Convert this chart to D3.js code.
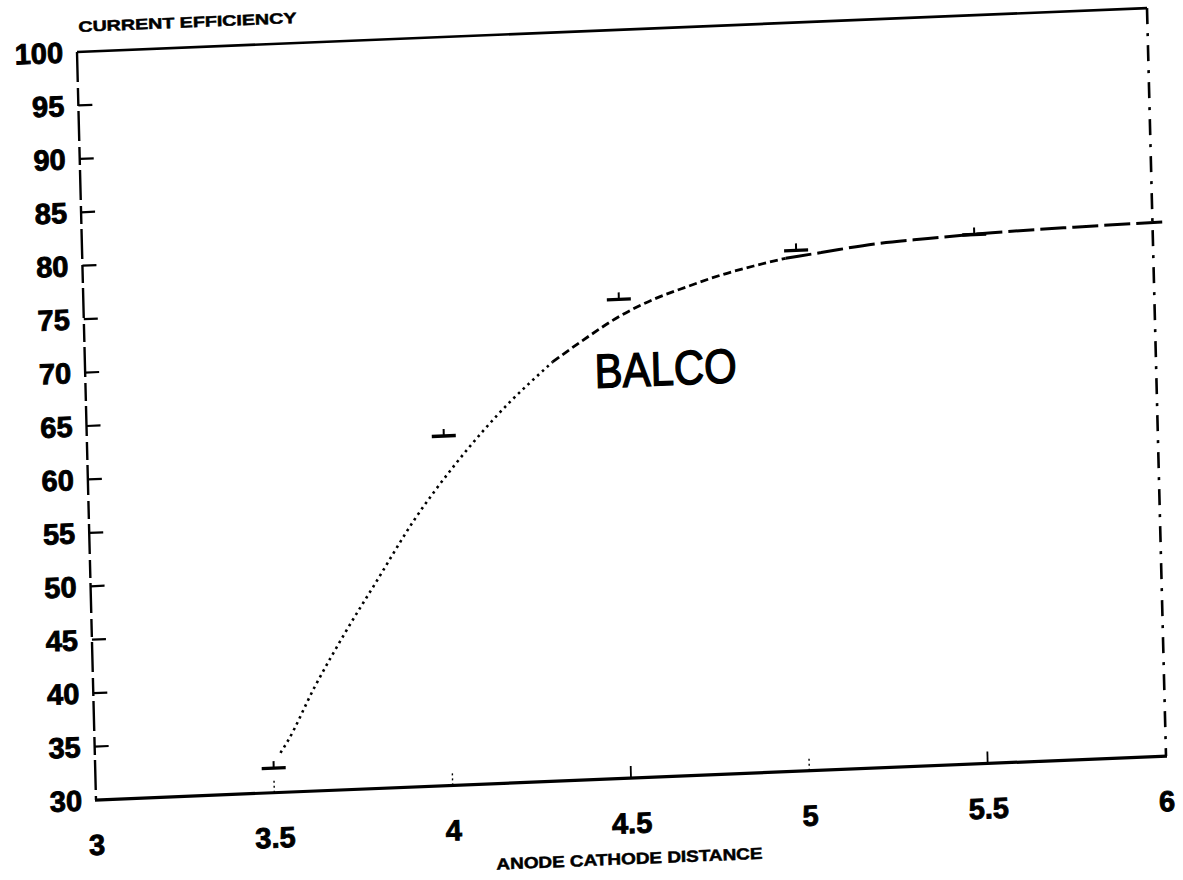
<!DOCTYPE html>
<html>
<head>
<meta charset="utf-8">
<script src="https://cdn.jsdelivr.net/npm/d3@7/dist/d3.min.js"></script>
<style>
  html, body { margin: 0; background: #fff; }
  svg { display: block; }
</style>
</head>
<body>
<div id="chart"></div>
<script>
/*
 * Current efficiency vs anode-cathode distance (BALCO), scanned-plot look.
 * The whole frame is drawn straight, then skewed like the scan.
 */

const X_TICKS = [3, 3.5, 4, 4.5, 5, 5.5, 6];
const X_LABELS = ['3', '3.5', '4', '4.5', '5', '5.5', '6'];
const Y_TICKS = [30, 35, 40, 45, 50, 55, 60, 65, 70, 75, 80, 85, 90, 95, 100];
const Y_LABELS = ['30', '35', '40', '45', '50', '55', '60', '65', '70', '75', '80', '85', '90', '95', '100'];

// measured points (short bar markers)
const MARKER_X = [3.5, 4.0, 4.5, 5.0, 5.5];
const MARKER_Y = [32.3, 62.7, 74.8, 78.7, 79.5];

// fitted curve
const CURVE_X = [3.52, 3.54, 3.62, 3.71, 3.80, 3.91, 4.03, 4.11, 4.19, 4.24, 4.31, 4.41, 4.50, 4.60, 4.69, 4.79, 4.88, 4.97, 5.07, 5.22, 5.37, 5.55, 5.78, 6.03];
const CURVE_Y = [33.7, 34.7, 39.7, 44.7, 49.3, 54.9, 60.0, 63.0, 65.7, 67.2, 69.2, 71.4, 73.2, 74.7, 75.7, 76.7, 77.4, 78.0, 78.4, 79.0, 79.3, 79.6, 79.8, 79.95];

const Y_TITLE = 'CURRENT EFFICIENCY';
const X_TITLE = 'ANODE CATHODE DISTANCE';
const SERIES_LABEL = 'BALCO';

const W = 1070, H = 748;
const SKEW = 'matrix(1,-0.041,0.0254,1,77,52)';

const svg = d3.select('#chart').append('svg')
  .attr('width', 1183).attr('height', 880);
svg.append('rect').attr('width', 1183).attr('height', 880).attr('fill', '#fff');

const g = svg.append('g').attr('transform', SKEW);

const x = d3.scaleLinear().domain([3, 6]).range([0, W]);
const y = d3.scaleLinear().domain([30, 100]).range([H, 0]);

/* ================================================================== */
/*  Frame                                                              */
/* ================================================================== */

const ink = '#000';

// top: solid
g.append('line').attr('x1', 0).attr('y1', 0).attr('x2', W).attr('y2', 0)
  .attr('stroke', ink).attr('stroke-width', 2.6);
// left: broken dashes
g.append('line').attr('x1', 0).attr('y1', 0).attr('x2', 0).attr('y2', H)
  .attr('stroke', ink).attr('stroke-width', 2.4).attr('stroke-dasharray', '30,6,18,5');
// right: dash-dot
g.append('line').attr('x1', W).attr('y1', 0).attr('x2', W).attr('y2', H)
  .attr('stroke', ink).attr('stroke-width', 2.6).attr('stroke-dasharray', '16,9,3,9');
// bottom: heavy solid
g.append('line').attr('x1', -1).attr('y1', H).attr('x2', W + 1).attr('y2', H)
  .attr('stroke', ink).attr('stroke-width', 3.2);

/* ================================================================== */
/*  Axes                                                               */
/* ================================================================== */

const labelFont = '"Liberation Sans", Arial, sans-serif';

// y ticks (inward) and labels
Y_TICKS.forEach((v, i) => {
  if (v > 30 && v < 100) {
    g.append('line')
      .attr('x1', 0).attr('x2', 14)
      .attr('y1', y(v)).attr('y2', y(v))
      .attr('stroke', ink).attr('stroke-width', 2.2);
  }
  g.append('text')
    .attr('x', -14).attr('y', y(v) + 10)
    .attr('text-anchor', 'end')
    .attr('font-family', labelFont).attr('font-weight', 'bold')
    .attr('font-size', 29)
    .attr('fill', ink).attr('stroke', ink).attr('stroke-width', 0.9)
    .text(Y_LABELS[i]);
});

// x ticks (inward) and labels
X_TICKS.forEach((v, i) => {
  if (v > 3 && v < 6) {
    const solid = v === 4.5 || v === 5.5;
    g.append('line')
      .attr('x1', x(v)).attr('x2', x(v))
      .attr('y1', H).attr('y2', H - 12)
      .attr('stroke', ink).attr('stroke-width', solid ? 1.8 : 1.4)
      .attr('stroke-dasharray', solid ? null : '2,3');
  }
  g.append('text')
    .attr('x', x(v)).attr('y', H + 55)
    .attr('text-anchor', 'middle')
    .attr('font-family', labelFont).attr('font-weight', 'bold')
    .attr('font-size', 29)
    .attr('fill', ink).attr('stroke', ink).attr('stroke-width', 0.9)
    .text(X_LABELS[i]);
});

// axis titles
g.append('text')
  .attr('x', 2).attr('y', -20)
  .attr('font-family', labelFont).attr('font-weight', 'bold')
  .attr('font-size', 15)
  .attr('textLength', 218).attr('lengthAdjust', 'spacingAndGlyphs')
  .attr('fill', ink).attr('stroke', ink).attr('stroke-width', 0.5)
  .text(Y_TITLE);

g.append('text')
  .attr('x', x(4.49)).attr('y', H + 86)
  .attr('text-anchor', 'middle')
  .attr('font-family', labelFont).attr('font-weight', 'bold')
  .attr('font-size', 16)
  .attr('textLength', 266).attr('lengthAdjust', 'spacingAndGlyphs')
  .attr('fill', ink).attr('stroke', ink).attr('stroke-width', 0.5)
  .text(X_TITLE);

/* ================================================================== */
/*  Fitted curve: dotted where steep, dashed where flat                */
/* ================================================================== */

const curve = CURVE_X.map((cx, i) => ({ x: cx, y: CURVE_Y[i] }));
const line = d3.line()
  .x(d => x(d.x)).y(d => y(d.y))
  .curve(d3.curveMonotoneX);

const pieces = [
  { from: 3.5, to: 4.31, dash: '2.5,4', w: 2.6 },
  { from: 4.31, to: 4.97, dash: '8,4', w: 2.8 },
  { from: 4.97, to: 6.1, dash: '26,6', w: 3 },
];
pieces.forEach(p => {
  const pts = curve.filter(d => d.x >= p.from && d.x <= p.to);
  g.append('path').datum(pts).attr('d', line)
    .attr('fill', 'none')
    .attr('stroke', ink)
    .attr('stroke-width', p.w)
    .attr('stroke-dasharray', p.dash);
});

/* ================================================================== */
/*  Markers                                                            */
/* ================================================================== */

MARKER_X.forEach((mx, i) => {
  const cx = x(mx), cy = y(MARKER_Y[i]);
  g.append('line')
    .attr('x1', cx - 12).attr('x2', cx + 12)
    .attr('y1', cy).attr('y2', cy)
    .attr('stroke', ink).attr('stroke-width', 3.4);
  g.append('line')
    .attr('x1', cx).attr('x2', cx)
    .attr('y1', cy).attr('y2', cy - 7)
    .attr('stroke', ink).attr('stroke-width', 2);
});

// series label
g.append('text')
  .attr('x', x(4.427)).attr('y', y(66.6))
  .attr('font-family', labelFont)
  .attr('font-size', 48)
  .attr('textLength', 142).attr('lengthAdjust', 'spacingAndGlyphs')
  .attr('fill', ink).attr('stroke', ink).attr('stroke-width', 1.4)
  .text(SERIES_LABEL);
</script>
</body>
</html>
